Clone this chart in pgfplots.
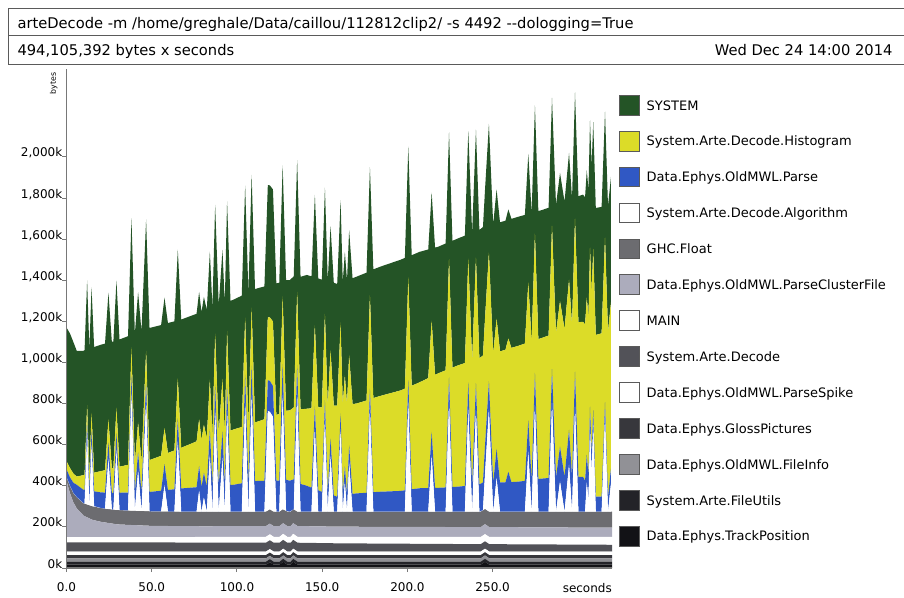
\documentclass[border=0pt]{standalone}
\usepackage{pgfplots}
\pgfplotsset{compat=1.18}
\usepackage{pgfplotstable}
\usepackage{fontspec}
\setmainfont{DejaVu Sans}
\definecolor{cSys}{RGB}{36,84,38}
\definecolor{cHist}{RGB}{220,220,40}
\definecolor{cParse}{RGB}{48,88,196}
\definecolor{cGhc}{RGB}{108,108,112}
\definecolor{cPcf}{RGB}{172,172,188}
\definecolor{cDec}{RGB}{82,82,88}
\definecolor{cGloss}{RGB}{55,55,60}
\definecolor{cInfo}{RGB}{145,145,150}
\definecolor{cUtil}{RGB}{35,35,40}
\definecolor{cTrack}{RGB}{18,18,22}
\definecolor{axgray}{RGB}{120,120,120}
\definecolor{boxgray}{RGB}{90,90,90}

% lower bands (k bytes), bottom to top
\pgfplotstableread{
t L1 L2 L3 L4 L5 L6 L7 L8 L9
0 16 15 16 16 17 45 25 273 20
2 16 15 16 16 17 45 25 215 35
4 16 15 16 16 17 45 25 170 45
6 16 15 16 16 17 45 25 140 55
10 16 15 16 16 17 45 25 105 60
15 16 15 16 16 17 45 25 85 65
20 16 15 16 16 17 45 25 75 67
30 16 15 16 16 17 45 25 62 70
50 16 15 16 16 17 45 25 55 71
80 16 15 16 16 17 43 28 52 71
117 16 15 16 16 17 43 29 52 70
119.3 28 15 16 16 17 43 29 52 70
121.5 16 15 16 16 17 43 29 52 70
125 16 15 16 16 17 43 29 52 70
127.1 30 15 16 16 17 43 29 52 70
129.5 16 15 16 16 17 43 29 52 70
131.5 16 15 16 16 17 43 29 52 70
133 30 15 16 16 17 43 29 52 70
135.5 16 15 16 16 17 43 29 52 70
160 16 15 16 16 17 40 31 50 73
243 16 15 16 16 17 36 35 48 75
245.5 30 15 16 16 17 36 35 48 75
248 16 15 16 16 17 36 35 48 75
320 16 15 16 16 17 33 38 45 78
}\lowtab

% upper bands (k bytes): base = top of lower bands
\pgfplotstableread{
t base alg parse hist sys
0 443 0 37 40 650
2 400 0 42 45 655
4 365 0 50 45 640
6 345 0 60 40 612
10 315 0 65 72 605
10.6 314 0 66 74 606
12.1 310 336 67 79 607
13.4 307 0 69 83 608
14.7 304 294 70 87 610
16.2 301 0 72 91 611
20 292 0 76 103 615
22.6 289 0 78 109 616
24.6 287 245 79 113 616
26.6 285 0 81 118 617
27.5 284 0 81 120 617
29.3 283 292 82 123 618
31.1 282 0 84 127 619
36.1 280 0 87 135 626
38.1 279 568 88 138 629
40.1 279 0 89 141 631
42.0 278 196 90 144 634
44.0 278 0 91 147 636
46.7 277 535 93 151 640
48.7 276 0 94 155 643
55.5 275 0 101 170 636
57.5 275 128 103 175 634
59.5 275 0 105 180 632
63.3 274 0 109 189 628
65.3 274 344 111 194 626
67.3 274 0 113 198 624
76.3 274 0 119 223 621
77.8 274 103 120 227 620
79.2 274 0 120 230 621
80.6 274 69 121 233 622
82.3 274 0 122 237 623
84.1 274 278 123 241 624
85.6 274 0 124 244 625
87.2 274 495 125 247 626
89.3 274 0 126 251 627
91.5 274 263 127 256 628
92.85 274 0 128 258 629
94.2 274 490 129 261 630
96.2 274 0 130 265 631
98 274 0 131 269 632
102.8 274 0 138 274 639
104.8 274 527 140 277 642
106.7 274 0 143 279 645
108.6 274 566 145 282 646
110.6 274 0 148 286 648
112 274 0 150 288 649
116.1 274 0 150 300 646
118.1 280 484 150 305 644
119.3 286 474 150 309 643
121.1 276 460 150 314 642
123.1 274 0 151 320 640
124.8 274 0 151 324 639
126.8 286 555 151 330 637
128.8 278 0 151 336 636
131 274 0 151 342 634
133.3 286 0 145 350 638
135.3 275 573 140 356 641
137.3 274 0 135 363 645
141 274 0 126 375 651
143.7 274 0 117 386 642
145.7 274 402 110 395 635
147.7 274 0 104 403 628
149.8 274 0 96 412 621
151.6 274 451 92 419 615
153.25 274 0 88 424 610
154.9 274 272 84 430 604
156.8 274 0 79 437 598
158.8 274 0 73 443 592
160.8 274 402 76 443 595
162.05 274 0 77 442 598
163.3 274 143 79 441 601
164.55 274 0 81 440 604
165.8 274 240 83 440 607
167.8 274 0 86 438 612
170 274 0 89 437 617
176.0 274 0 92 449 622
178.0 274 505 94 454 624
180.0 274 0 95 458 626
184 274 0 97 466 629
196 274 0 101 489 636
198.5 274 0 104 495 636
200.5 274 534 106 500 636
202.5 274 0 109 504 635
207 274 0 114 515 635
212.2 274 0 115 535 626
214.2 274 273 115 542 623
216.2 274 0 116 550 619
218 274 0 116 557 616
222.4 274 0 118 570 617
224.4 274 535 119 575 617
226.4 274 0 120 581 617
230 274 0 122 591 618
233.7 274 0 125 598 620
235.7 274 502 127 602 621
237.95 274 0 129 606 622
240.2 274 495 131 610 623
242.2 274 0 133 614 624
244.3 281 0 135 618 625
245.5 288 170 136 620 626
247.8 275 496 138 625 627
250.3 274 0 140 630 628
252.3 274 165 141 634 628
254.3 274 0 142 638 628
257.5 274 0 143 645 628
259.2 274 0 194 649 628
261 274 0 144 653 628
265 274 0 146 661 628
268.9 274 0 150 668 626
270.9 274 293 152 671 625
272.85 274 0 154 674 625
274.8 274 519 156 678 624
276.8 274 0 159 681 623
279 274 0 161 685 622
282.8 274 0 164 693 622
284.8 274 528 166 697 623
287.15 274 0 168 702 623
289.5 274 147 170 708 623
292.15 274 0 170 719 620
294.8 274 229 170 730 617
296.55 274 0 170 738 615
298.3 274 511 170 745 614
300.3 274 0 170 752 613
303 274 0 170 754 619
304.2 274 0 151 760 619
305.2 274 143 134 765 619
306.2 274 60 119 770 619
307.1 274 407 104 774 619
308.05 274 200 88 779 619
309.0 274 420 73 784 619
310.5 274 0 73 787 618
313.9 274 0 73 795 615
315.9 274 460 73 800 614
317.65 274 0 73 803 612
319.4 274 137 73 808 611
}\hightab

\pgfplotsset{heap/.style={at={(66.5pt,29pt)}, anchor=south west, scale only axis,
  width=545.5pt, height=499.4pt, xmin=0, xmax=320, ymin=0, ymax=2430,
  stack plots=y}}

\begin{document}
\begin{tikzpicture}
\useasboundingbox (0,0) rectangle (904pt,597pt);
\begin{axis}[heap, hide axis]
\addplot[fill=cTrack, draw=none] table[x=t,y=L1]{\lowtab} \closedcycle;
\addplot[fill=cUtil, draw=none] table[x=t,y=L2]{\lowtab} \closedcycle;
\addplot[fill=cInfo, draw=none] table[x=t,y=L3]{\lowtab} \closedcycle;
\addplot[fill=cGloss, draw=none] table[x=t,y=L4]{\lowtab} \closedcycle;
\addplot[fill=white, draw=none] table[x=t,y=L5]{\lowtab} \closedcycle;
\addplot[fill=cDec, draw=none] table[x=t,y=L6]{\lowtab} \closedcycle;
\addplot[fill=white, draw=none] table[x=t,y=L7]{\lowtab} \closedcycle;
\addplot[fill=cPcf, draw=none] table[x=t,y=L8]{\lowtab} \closedcycle;
\addplot[fill=cGhc, draw=none] table[x=t,y=L9]{\lowtab} \closedcycle;
\end{axis}
\begin{axis}[heap, clip=false, axis on top,
  axis lines*=left,
  axis line style={-, draw=axgray, line width=1.3pt},
  tick style={draw=axgray, line width=1pt},
  major tick length=4pt, tick align=outside,
  xtick={0,50,100,150,200,250},
  xticklabels={0.0,50.0,100.0,150.0,200.0,250.0},
  ytick={0,200,400,600,800,1000,1200,1400,1600,1800,2000},
  yticklabels={0k,200k,400k,600k,800k,{1,000k},{1,200k},{1,400k},{1,600k},{1,800k},{2,000k}},
  tick label style={font=\fontsize{12}{14}\selectfont},
  yticklabel style={anchor=base east, inner sep=0pt},
  xticklabel style={inner sep=0pt, yshift=-10pt},
  reverse legend,
  legend image code/.code={\draw[#1, draw=boxgray, line width=0.8pt] (0pt,-5pt) rectangle (19.7pt,14.7pt);},
  legend style={at={(1,1)}, anchor=north west, xshift=7.3pt, yshift=-26.4pt,
    draw=none, fill=none, inner sep=0pt, outer sep=0pt, row sep=15.4pt, column sep=0pt,
    font=\fontsize{13}{15}\selectfont, cells={anchor=base west},
    nodes={inner sep=0pt, text height=9.5pt, text depth=0pt},
    /tikz/every odd column/.append style={column sep=6.9pt}},
]
\addlegendimage{fill=cTrack}\addlegendentry{Data.Ephys.TrackPosition}
\addlegendimage{fill=cUtil}\addlegendentry{System.Arte.FileUtils}
\addlegendimage{fill=cInfo}\addlegendentry{Data.Ephys.OldMWL.FileInfo}
\addlegendimage{fill=cGloss}\addlegendentry{Data.Ephys.GlossPictures}
\addlegendimage{fill=white}\addlegendentry{Data.Ephys.OldMWL.ParseSpike}
\addlegendimage{fill=cDec}\addlegendentry{System.Arte.Decode}
\addlegendimage{fill=white}\addlegendentry{MAIN}
\addlegendimage{fill=cPcf}\addlegendentry{Data.Ephys.OldMWL.ParseClusterFile}
\addlegendimage{fill=cGhc}\addlegendentry{GHC.Float}
\addplot[draw=none, fill=none, forget plot] table[x=t,y=base]{\hightab} \closedcycle;
\addplot[fill=white, draw=none] table[x=t,y=alg]{\hightab} \closedcycle;
\addlegendentry{System.Arte.Decode.Algorithm}
\addplot[fill=cParse, draw=none] table[x=t,y=parse]{\hightab} \closedcycle;
\addlegendentry{Data.Ephys.OldMWL.Parse}
\addplot[fill=cHist, draw=none] table[x=t,y=hist]{\hightab} \closedcycle;
\addlegendentry{System.Arte.Decode.Histogram}
\addplot[fill=cSys, draw=none] table[x=t,y=sys]{\hightab} \closedcycle;
\addlegendentry{SYSTEM}
\node[rotate=90, inner sep=0pt, font=\fontsize{7.8}{9}\selectfont] at ([xshift=-12.8pt,yshift=-14.9pt]rel axis cs:0,1) {bytes};
\node[anchor=base east, inner sep=0pt, font=\fontsize{12}{14}\selectfont] at ([yshift=-24pt]axis cs:320,0) {seconds};
\end{axis}
\draw[boxgray, line width=1.4pt] (8.6pt,532.4pt) rectangle (908pt,588.4pt);
\draw[boxgray, line width=1.4pt] (8.6pt,561.2pt) -- (908pt,561.2pt);
\node[anchor=base west, inner sep=0pt, font=\fontsize{14.7}{17}\selectfont] at (17.3pt,568.5pt) {arteDecode -m /home/greghale/Data/caillou/112812clip2/ -s 4492 -{}-dologging=True};
\node[anchor=base west, inner sep=0pt, font=\fontsize{14.7}{17}\selectfont] at (17.3pt,541.5pt) {494,105,392 bytes x seconds};
\node[anchor=base east, inner sep=0pt, font=\fontsize{14.7}{17}\selectfont] at (892.7pt,541.5pt) {Wed Dec 24 14:00 2014};
\end{tikzpicture}
\end{document}
